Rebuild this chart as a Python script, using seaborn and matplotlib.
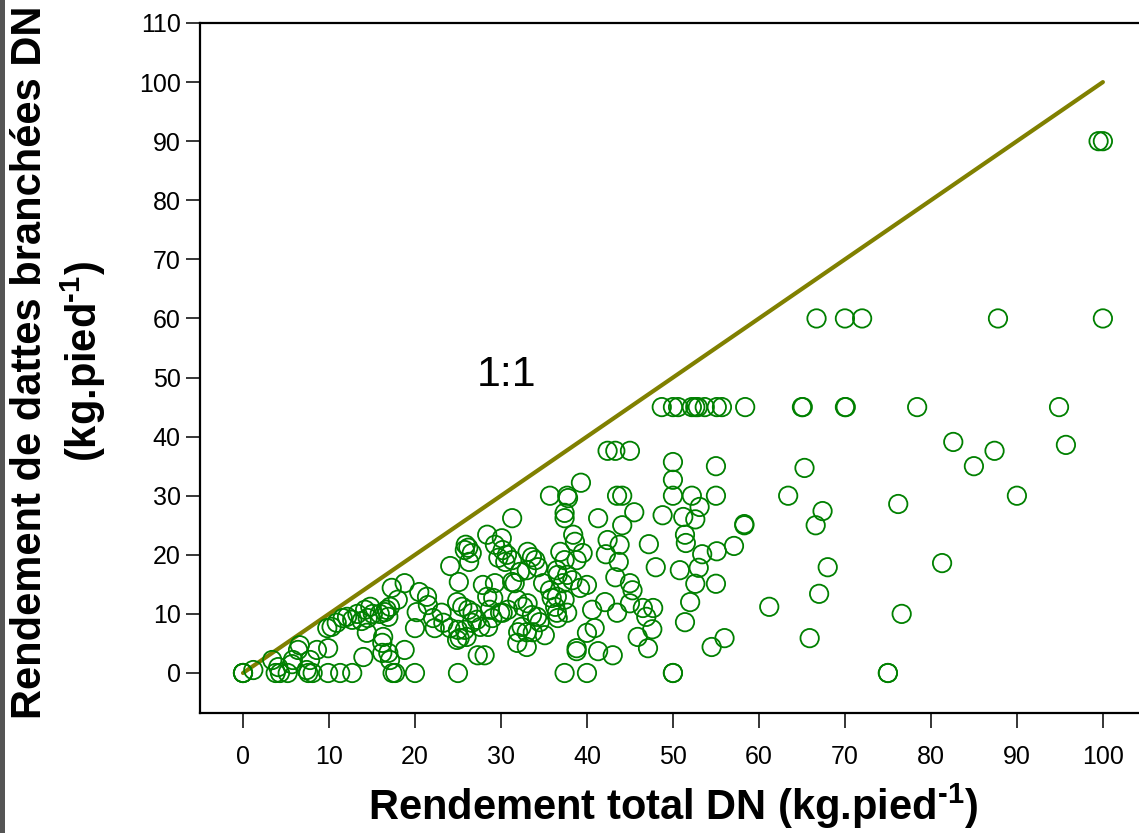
import matplotlib
matplotlib.use("Agg")
import matplotlib.pyplot as plt
from matplotlib import font_manager as fm
from matplotlib.patches import Rectangle
import numpy as np
import pandas as pd
import seaborn as sns

# ---------------- data ----------------
x_total = [
    0, 0, 0, 1.2, 3.4, 4.1, 4.3, 5.2, 3.8, 5.8, 6.4, 6.6, 5.7,
    7.4, 7.6, 8.1, 7.8, 8.6, 9.9, 9.9, 11.3, 12.7,
    9.8, 10.3, 10.9, 11.6, 12.7, 12.1, 13.3, 14.2, 14.8, 15.1, 15.9, 16.7, 14.5, 13.8,
    17.3, 14.4, 14.0, 16.2, 16.2, 17.1, 17.4,
    16.5, 16.9, 17.1, 18.0, 16.3, 16.9,
    18.8, 20.5, 21.4, 21.5, 20.2, 20.0, 22.1, 23.1, 22.3, 23.3, 24.1, 25.0,
    25.1, 24.9, 25.5, 26.2, 26.7, 27.2, 26.6, 27.6, 25.8, 25.2, 24.9, 26.0,
    27.9, 28.4, 29.3, 29.1, 28.7, 29.0, 28.5, 31.3,
    18.8, 17.7, 20.0, 25.0, 27.3, 28.1,
    24.1, 25.9, 26.2, 26.6, 25.8, 26.3,
    28.4, 30.1, 29.3, 30.2, 30.7, 31.3, 30.5, 29.7,
    31.3, 29.9, 30.8, 30.2,
    33.1, 33.6, 34.0, 34.3, 33.0, 32.2, 31.6,
    36.9, 37.4, 36.5, 37.7, 38.3,
    37.4, 37.4, 38.4, 38.6,
    35.7, 37.7, 37.8,
    31.9, 32.6, 33.1, 33.6, 34.2, 34.5, 32.4, 32.0, 33.0, 33.7, 35.1, 31.9, 33.0,
    35.7, 34.9, 36.6, 37.2, 37.4, 36.5, 36.3, 36.5, 37.7, 36.6, 35.9,
    37.4, 38.8,
    42.4, 43.3, 45.0, 39.3, 43.5, 44.1, 41.3, 45.5, 44.1,
    42.4, 43.8, 42.2, 43.7, 43.3, 39.5, 38.8,
    39.2, 40.0, 45.0, 45.3, 42.1, 40.6, 43.5, 45.0,
    46.5, 47.7, 46.9, 47.6, 45.9, 47.1,
    40.0, 40.9, 38.8, 41.3, 43.0,
    40.0, 47.2, 48.0, 48.8,
    50.0, 50.0, 50.0, 55.0, 55.0, 52.2, 53.1, 51.2, 52.6, 58.3, 58.3,
    51.4, 51.5, 53.4, 55.1, 57.1, 50.8, 53.0,
    52.6, 55.0, 52.0, 51.4, 54.5, 56.0,
    50.0, 50.0,
    48.7, 50.0, 50.6, 52.2, 52.6, 52.9, 53.7, 55.1, 55.7, 58.4,
    65.0, 65.1, 70.0, 70.1, 78.4, 94.9,
    66.7, 70.0, 72.0, 87.8, 100.0,
    99.5, 100.0,
    65.3, 63.4, 67.4, 66.6, 68.0, 61.2, 67.0, 65.9, 75.0, 75.0,
    82.6, 87.4, 95.7, 85.0, 76.2, 90.0, 81.3, 76.6,
]
y_branch = [
    0, 0, 0, 0.5, 2.2, 1.0, 0, 0, 0, 2.2, 3.9, 4.7, 1.5,
    0.5, 0, 0, 2.2, 3.9, 4.2, 0, 0, 0,
    7.6, 7.8, 8.5, 9.3, 9.0, 9.5, 10.0, 10.7, 11.2, 10.0, 10.0, 10.7, 9.3, 8.8,
    14.4, 6.8, 2.7, 5.1, 3.4, 2.2, 0,
    10.3, 9.5, 11.2, 12.4, 6.1, 3.4,
    15.2, 13.7, 12.9, 11.5, 10.3, 7.6, 9.3, 10.2, 7.6, 8.5, 7.6, 7.3,
    15.4, 12.0, 11.2, 10.7, 10.2, 9.0, 8.5, 7.8, 7.3, 5.9, 5.6, 6.1,
    14.9, 12.9, 15.2, 12.7, 10.7, 9.3, 7.8, 15.4,
    3.9, 0, 0, 0, 3.0, 3.0,
    18.1, 21.7, 21.2, 20.3, 20.8, 18.8,
    23.4, 22.8, 21.7, 20.8, 20.0, 19.1, 18.8, 19.5,
    26.2, 10.2, 10.7, 10.2,
    20.5, 19.6, 19.1, 17.9, 17.4, 17.1, 15.2,
    20.5, 19.1, 17.4, 16.6, 15.7,
    27.1, 26.2, 23.4, 22.2,
    30.0, 30.0, 29.6,
    12.4, 11.2, 11.8, 9.8, 9.5, 8.6, 7.8, 6.9, 6.9, 6.9, 6.4, 5.1, 4.4,
    14.0, 15.2, 16.6, 15.2, 12.4, 12.9, 11.2, 10.2, 10.2, 9.3, 12.7,
    0, 4.2,
    37.6, 37.6, 37.6, 32.2, 30.0, 30.0, 26.2, 27.2, 25.0,
    22.5, 21.7, 20.1, 18.8, 16.2, 20.3, 19.1,
    14.4, 14.9, 15.2, 14.0, 12.0, 10.7, 10.2, 11.8,
    11.0, 11.0, 9.5, 7.4, 6.1, 4.2,
    6.8, 7.6, 3.7, 3.7, 3.0,
    0, 21.8, 17.9, 26.7,
    35.7, 32.7, 30.0, 35.0, 30.0, 30.0, 28.1, 26.4, 26.0, 25.0, 25.2,
    23.4, 22.0, 20.1, 20.6, 21.5, 17.4, 17.8,
    15.1, 15.1, 12.0, 8.6, 4.4, 5.9,
    0, 0,
    45, 45, 45, 45, 45, 45, 45, 45, 45, 45,
    45, 45, 45, 45, 45, 45,
    60, 60, 60, 60, 60,
    90, 90,
    34.7, 30.0, 27.4, 25.0, 17.9, 11.2, 13.4, 5.9, 0, 0,
    39.1, 37.6, 38.6, 35.0, 28.6, 30.0, 18.6, 10.0,
]
line_x = [0, 100]
line_y = [0, 100]
x_ticks = list(range(0, 101, 10))
y_ticks = list(range(0, 111, 10))
x_label = "Rendement total DN (kg.pied$^{\\text{-}1}$)"
y_label = "Rendement de dattes branchées DN\n(kg.pied$^{\\text{-}1}$)"
ratio_label = "1:1"

df = pd.DataFrame({"total": x_total, "branch": y_branch})

# ---------------- style ----------------
sns.set_theme(style="white")
names = {f.name for f in fm.fontManager.ttflist}
NARROW = "Liberation Sans Narrow" if "Liberation Sans Narrow" in names else "Liberation Sans"
plt.rcParams["font.family"] = ["Liberation Sans", "DejaVu Sans"]
plt.rcParams["text.color"] = "black"
plt.rcParams["xtick.color"] = "black"
plt.rcParams["ytick.color"] = "black"
plt.rcParams["mathtext.fontset"] = "custom"
plt.rcParams["mathtext.rm"] = "Liberation Sans:bold"
plt.rcParams["mathtext.bf"] = "Liberation Sans:bold"
plt.rcParams["mathtext.it"] = "Liberation Sans:bold"

fig = plt.figure(figsize=(11.39, 8.33), dpi=100)
ax = fig.add_axes([200 / 1139, 120 / 833, 939 / 1139, 690 / 833])

sns.lineplot(x=line_x, y=line_y, color="#808000", linewidth=3.0, ax=ax, zorder=2)
sns.scatterplot(data=df, x="total", y="branch", marker="o", s=175,
                edgecolor="#008000", linewidth=1.3, ax=ax, zorder=3)
for coll in ax.collections:
    coll.set_facecolor("none")
    coll.set_edgecolor("#008000")

ax.set_xlim(-5.0, 104.2)
ax.set_ylim(-6.77, 110)
ax.set_xticks(x_ticks)
ax.set_yticks(y_ticks)
ax.set_xticklabels([str(t) for t in x_ticks], fontfamily=NARROW, fontsize=18, color="black")
ax.set_yticklabels([str(t) for t in y_ticks], fontfamily="Liberation Sans", fontsize=18, color="black")
ax.tick_params(axis="x", direction="out", length=11, width=1.1, color="black", pad=12, bottom=True)
ax.tick_params(axis="y", direction="out", length=10, width=1.1, color="black", pad=4, left=True)
ax.set_xlabel("")
ax.set_ylabel("")
for side in ["left", "bottom", "top"]:
    ax.spines[side].set_visible(True)
    ax.spines[side].set_color("black")
    ax.spines[side].set_linewidth(1.6)
ax.spines["right"].set_visible(False)
ax.grid(False)

ax.text(30.6, 50.4, ratio_label, fontsize=31, ha="center", va="center",
        fontfamily="Liberation Sans", color="black")

fig.text(673 / 1139, 1 - 806 / 833, x_label, ha="center", va="center",
         fontsize=30, fontweight="bold", fontfamily="Liberation Sans", color="black")
fig.text(59 / 1139, 1 - 362 / 833, y_label, ha="center", va="center", rotation=90,
         multialignment="center", fontsize=30, fontweight="bold", fontfamily="Liberation Sans",
         linespacing=1.2, color="black")

fig.patches.append(Rectangle((0, 0), 5 / 1139, 1, transform=fig.transFigure,
                             facecolor="#555555", edgecolor="none", zorder=0))

fig.savefig("out.png", dpi=100)
